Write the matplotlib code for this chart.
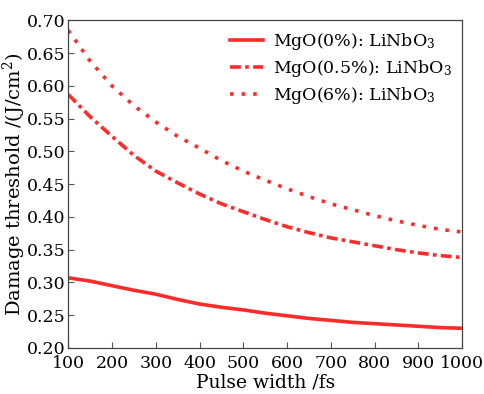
import matplotlib
matplotlib.use("Agg")
import matplotlib.pyplot as plt

plt.rcParams['font.family'] = ['DejaVu Serif']
plt.rcParams['mathtext.fontset'] = 'dejavuserif'

pulse = [100, 150, 200, 250, 300, 350, 400, 450, 500, 550, 600, 650, 700, 750, 800, 850, 900, 950, 1000]
mgo_0 = [0.307, 0.302, 0.295, 0.288, 0.282, 0.274, 0.267, 0.262, 0.258, 0.253, 0.249, 0.245, 0.242, 0.239, 0.237, 0.235, 0.233, 0.231, 0.230]
mgo_05 = [0.587, 0.553, 0.523, 0.494, 0.470, 0.452, 0.435, 0.420, 0.408, 0.396, 0.385, 0.376, 0.368, 0.362, 0.356, 0.350, 0.345, 0.341, 0.338]
mgo_6 = [0.685, 0.638, 0.600, 0.570, 0.545, 0.523, 0.505, 0.486, 0.470, 0.456, 0.443, 0.431, 0.420, 0.411, 0.402, 0.394, 0.387, 0.381, 0.377]

fig, ax = plt.subplots(figsize=(4.84, 3.94), dpi=100)
fig.subplots_adjust(left=0.141, right=0.955, top=0.948, bottom=0.117)

red = '#ff2a2a'
ax.plot(pulse, mgo_0, color=red, lw=2.6, ls='-', label=r'MgO(0%): LiNbO$_3$')
ax.plot(pulse, mgo_05, color=red, lw=2.6, ls=(0, (3, 1.2, 1, 1.2)), label=r'MgO(0.5%): LiNbO$_3$')
ax.plot(pulse, mgo_6, color=red, lw=2.6, ls=(0, (1, 2.2)), label=r'MgO(6%): LiNbO$_3$')

ax.set_xlim(100, 1000)
ax.set_ylim(0.20, 0.70)
ax.set_xticks(range(100, 1001, 100))
ax.set_yticks([0.20, 0.25, 0.30, 0.35, 0.40, 0.45, 0.50, 0.55, 0.60, 0.65, 0.70])
ax.yaxis.set_major_formatter(matplotlib.ticker.FormatStrFormatter('%.2f'))
ax.tick_params(direction='in', labelsize=12.5, length=4, color='#555555', pad=2)
ax.tick_params(axis='x', pad=5)
for s in ax.spines.values():
    s.set_color('#444444')
    s.set_linewidth(0.9)

ax.set_xlabel('Pulse width /fs', fontsize=13.5, labelpad=1)
ax.set_ylabel(r'Damage threshold /(J/cm$^2$)', fontsize=14, labelpad=-1)

leg = ax.legend(loc='upper right', fontsize=12.5, frameon=False, handlelength=1.9,
                borderaxespad=0.2, labelspacing=0.35, handletextpad=0.6)

fig.savefig('out.png', dpi=100)
